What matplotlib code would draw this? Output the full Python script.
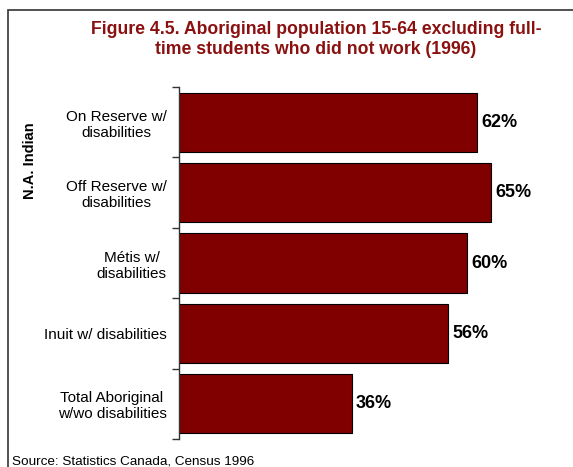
import matplotlib.pyplot as plt
from matplotlib.patches import Rectangle

plt.rcParams['font.family'] = ['Liberation Sans', 'DejaVu Sans']

# data
categories = ['On Reserve w/\ndisabilities', 'Off Reserve w/\ndisabilities',
              'Métis w/\ndisabilities', 'Inuit w/ disabilities',
              'Total Aboriginal\nw/wo disabilities']
values = [62, 65, 60, 56, 36]
value_labels = ['62%', '65%', '60%', '56%', '36%']

W, H = 573, 467
fig = plt.figure(figsize=(W / 100, H / 100), dpi=100)

# outer frame (only top and left edges visible in the reference)
fig.patches.append(Rectangle((8 / W, -0.05), 1.2, (H - 9.5) / H + 0.05,
                             transform=fig.transFigure, fill=False,
                             edgecolor='#333333', linewidth=1.2))

ax = fig.add_axes([179 / W, (H - 439) / H, 384 / W, 352 / H])
pos = list(range(len(categories)))
ax.barh(pos, values, height=0.84, color='#800000', edgecolor='black', linewidth=0.8)
ax.set_xlim(0, 80)
ax.set_ylim(len(categories) - 0.5, -0.5)

for p, v, lab in zip(pos, values, value_labels):
    ax.text(v + 0.9, p, lab, va='center', ha='left', fontsize=13,
            fontweight='bold', color='black')

ax.set_yticks(pos)
ax.set_yticklabels(categories, fontsize=11, multialignment='center')
ax.tick_params(axis='y', which='major', length=0, pad=9)
ax.set_yticks([p - 0.5 for p in pos] + [len(pos) - 0.5], minor=True)
ax.tick_params(axis='y', which='minor', length=5, width=1, color='#333333')

ax.set_xticks([])
for s in ['top', 'right', 'bottom']:
    ax.spines[s].set_visible(False)
ax.spines['left'].set_color('#333333')
ax.spines['left'].set_linewidth(1)

fig.text(316 / W, 1 - 39.5 / H, 'Figure 4.5. Aboriginal population 15-64 excluding full-\ntime students who did not work (1996)',
         ha='center', va='center', fontsize=12.7, fontweight='bold', color='#8B1010',
         multialignment='center', linespacing=1.25)
fig.text(30 / W, 1 - 161 / H, 'N.A. Indian', rotation=90, ha='center', va='center',
         fontsize=10.5, fontweight='bold')
fig.text(12 / W, 1 - 462 / H, 'Source: Statistics Canada, Census 1996',
         ha='left', va='center', fontsize=9.7)

fig.savefig('out.png', dpi=100)
